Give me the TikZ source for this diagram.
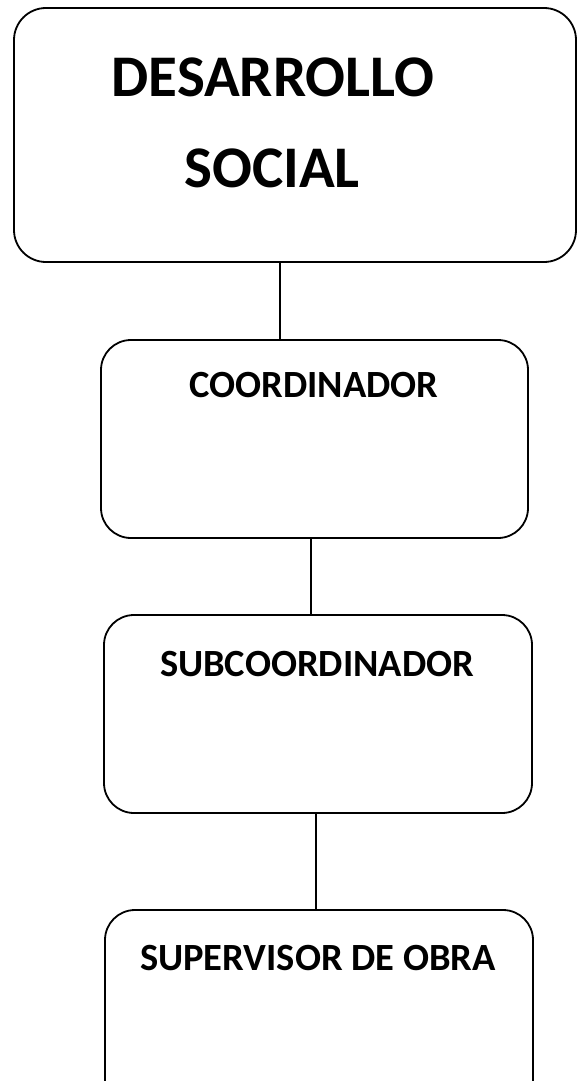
\documentclass[tikz,border=0pt]{standalone}
\usepackage{fontspec}
\setmainfont{Carlito}
\begin{document}
\begin{tikzpicture}[x=1pt,y=-1pt,
  boxstyle/.style={draw=black,line width=1.8pt,rounded corners=32pt},
  lbl/.style={font=\bfseries,anchor=center,inner sep=0pt},
  link/.style={draw=black,line width=2.6pt}]
\useasboundingbox (0,0) rectangle (578,1081);
\begin{scope}
\clip (0,0) rectangle (578,1081);
\draw[boxstyle] (14,8) rectangle (576,262);
\draw[boxstyle,rounded corners=30pt] (101,340) rectangle (528,538);
\draw[boxstyle,rounded corners=30pt] (104,615) rectangle (532,813);
\draw[boxstyle,rounded corners=30pt] (105,910) rectangle (533,1110);
\end{scope}
\coordinate (a) at (280,262);
\coordinate (b1) at (280,340);
\coordinate (b2) at (311,538);
\coordinate (c1) at (311,615);
\coordinate (c2) at (316,813);
\coordinate (d1) at (316,910);
\node[lbl,font=\bfseries\fontsize{59}{59}\selectfont] (t1) at (273,77) {DESARROLLO};
\node[lbl,font=\bfseries\fontsize{59}{59}\selectfont] (t2) at (272,168) {SOCIAL};
\node[lbl,font=\bfseries\fontsize{38.5}{38.5}\selectfont] (t3) at (314,385) {COORDINADOR};
\node[lbl,font=\bfseries\fontsize{38.5}{38.5}\selectfont] (t4) at (317,664) {SUBCOORDINADOR};
\node[lbl,font=\bfseries\fontsize{38.5}{38.5}\selectfont] (t5) at (318,958) {SUPERVISOR DE OBRA};
\draw[link] (a) -- (b1);
\draw[link] (b2) -- (c1);
\draw[link] (c2) -- (d1);
\end{tikzpicture}
\end{document}
